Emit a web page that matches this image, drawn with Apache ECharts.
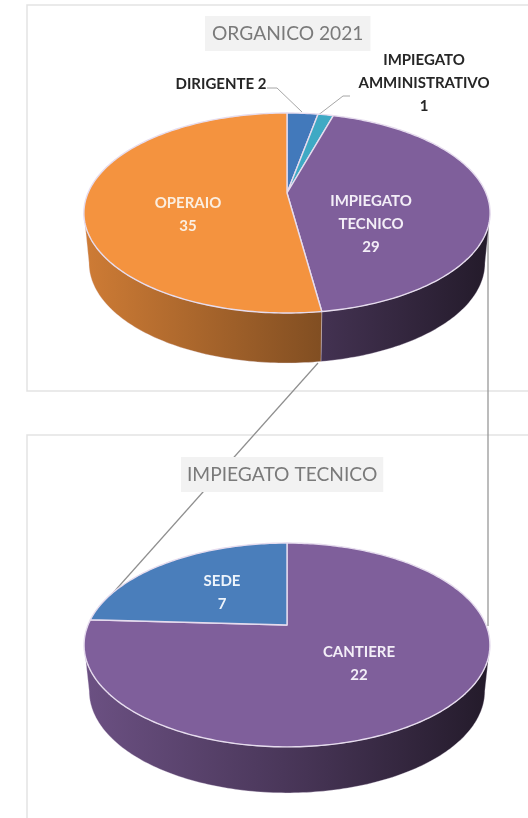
<!DOCTYPE html>
<html>
<head>
<meta charset="utf-8">
<style>
  html, body { margin: 0; padding: 0; background: #fff; }
  #main { width: 528px; height: 818px; }
</style>
<script src="https://cdn.jsdelivr.net/npm/echarts@6/dist/echarts.min.js"></script>
</head>
<body>
<div id="main"></div>
<script>
var organicoNames = ["DIRIGENTE", "IMPIEGATO\nAMMINISTRATIVO", "IMPIEGATO\nTECNICO", "OPERAIO"];
var organicoValues = [2, 1, 29, 35];
var organicoColors = ["#4279bb", "#3fa9c4", "#7f5f9b", "#f4933f"];
var organicoLabelPos = [[221, 84], [424, 83], [371, 224], [188, 215]];
var organicoLabelColor = ["#262626", "#262626", "#f3eef7", "#fbeee0"];

var tecnicoNames = ["CANTIERE", "SEDE"];
var tecnicoValues = [22, 7];
var tecnicoColors = ["#7f5f9b", "#4a7ebb"];
var tecnicoLabelPos = [[359, 664], [222, 593]];
var tecnicoLabelColor = ["#f3eef7", "#eef4fb"];

var FONT = "Lato, 'Open Sans', sans-serif";

// perspective disc: far edge squeezed, near edge stretched
function rim(p, deg, scale) {
  var t = deg * Math.PI / 180;
  var u = Math.sin(t), v = Math.cos(t);
  var w = 1 + p.k * v;
  return [p.cx + p.a * scale * u / w, p.cy - p.b * v / w];
}

function shade(hex, f) {
  var n = parseInt(hex.slice(1), 16);
  var r = Math.round((n >> 16) * f), g = Math.round(((n >> 8) & 255) * f), b = Math.round((n & 255) * f);
  return "rgb(" + r + "," + g + "," + b + ")";
}

function pieSeries(values, names, colors, labelPos, labelColor, p) {
  var total = values.reduce(function (s, x) { return s + x; }, 0);
  var edge = 90 + Math.asin(p.k) * 180 / Math.PI;

  return {
    type: "custom",
    coordinateSystem: "none",
    silent: true,
    animation: false,
    data: values.map(function (x) { return [x]; }),
    renderItem: function (params, api) {
      var i = params.dataIndex;
      var before = 0;
      for (var j = 0; j < i; j++) before += values[j];
      var start = before / total * 360;
      var end = start + api.value(0) / total * 360;
      var children = [];

      // side wall, only the part that faces the viewer
      var a = Math.max(start, edge), b = Math.min(end, 360 - edge);
      if (b > a) {
        var wall = [], d;
        for (d = a; d < b; d += 1) wall.push(rim(p, d, 1));
        wall.push(rim(p, b, 1));
        var low = [];
        for (d = a; d < b; d += 1) {
          var q = rim(p, d, p.bottomScale);
          low.push([q[0], q[1] + p.depth]);
        }
        var qb = rim(p, b, p.bottomScale);
        low.push([qb[0], qb[1] + p.depth]);
        wall = wall.concat(low.reverse());
        children.push({
          type: "polygon",
          shape: { points: wall },
          style: {
            fill: new echarts.graphic.LinearGradient(p.cx - p.a, 0, p.cx + p.a, 0, [
              { offset: 0, color: shade(colors[i], 0.84) },
              { offset: 0.55, color: shade(colors[i], 0.55) },
              { offset: 1, color: shade(colors[i], 0.28) }
            ], true),
            stroke: "rgba(235,225,240,0.55)",
            lineWidth: 0.6
          }
        });
      }

      // top face
      var top = [[p.cx, p.cy]];
      for (var d2 = start; d2 < end; d2 += 1) top.push(rim(p, d2, 1));
      top.push(rim(p, end, 1));
      children.push({
        type: "polygon",
        z2: 5,
        shape: { points: top },
        style: { fill: colors[i], stroke: "#e6dcee", lineWidth: 1.4, lineJoin: "round" }
      });

      var single = names[i] === "DIRIGENTE";
      children.push({
        type: "text",
        z2: 10,
        x: labelPos[i][0],
        y: labelPos[i][1],
        style: {
          text: names[i] + (single ? " " : "\n") + api.value(0),
          fill: labelColor[i],
          font: "bold 15px " + FONT,
          align: "center",
          verticalAlign: "middle",
          lineHeight: 23
        }
      });
      return { type: "group", children: children };
    }
  };
}

var topPie = { cx: 287, cy: 193, a: 199, b: 96, k: 0.2, depth: 50, bottomScale: 0.975 };
var lowPie = { cx: 287, cy: 625, a: 199, b: 98, k: 0.196, depth: 46, bottomScale: 0.975 };

var frameStyle = { stroke: "#e3e3e3", lineWidth: 1.5, fill: "none" };
var linkStyle = { stroke: "#8f8f8f", lineWidth: 1.2, fill: "none" };
var leaderStyle = { stroke: "#a6a6a6", lineWidth: 1, fill: "none" };

var chart = echarts.init(document.getElementById("main"));

var option = {
  backgroundColor: "#fff",
  animation: false,
  title: [
    {
      text: "ORGANICO 2021",
      left: 205, top: 16,
      padding: [6, 7, 6, 7],
      backgroundColor: "#f2f2f2",
      textStyle: { color: "#7a7a7a", fontFamily: FONT, fontSize: 19.2, fontWeight: "normal", lineHeight: 23 }
    },
    {
      text: "IMPIEGATO TECNICO",
      left: 181, top: 457,
      padding: [6, 6, 6, 6],
      backgroundColor: "#f2f2f2",
      textStyle: { color: "#7a7a7a", fontFamily: FONT, fontSize: 19.2, fontWeight: "normal", lineHeight: 23 }
    }
  ],
  graphic: [
    { type: "polyline", silent: true, shape: { points: [[528, 5], [27, 5], [27, 391], [528, 391]] }, style: frameStyle },
    { type: "polyline", silent: true, shape: { points: [[528, 435], [27, 435], [27, 818]] }, style: frameStyle },
    { type: "line", silent: true, shape: { x1: 318, y1: 363, x2: 96, y2: 612 }, style: linkStyle },
    { type: "line", silent: true, shape: { x1: 488, y1: 226, x2: 488, y2: 626 }, style: linkStyle },
    { type: "polyline", silent: true, shape: { points: [[267, 88], [277, 88], [302, 112]] }, style: leaderStyle },
    { type: "polyline", silent: true, shape: { points: [[350, 96], [343, 96], [317, 116]] }, style: leaderStyle }
  ],
  series: [
    pieSeries(organicoValues, organicoNames, organicoColors, organicoLabelPos, organicoLabelColor, topPie),
    pieSeries(tecnicoValues, tecnicoNames, tecnicoColors, tecnicoLabelPos, tecnicoLabelColor, lowPie)
  ]
};

chart.setOption(option);
</script>
</body>
</html>
